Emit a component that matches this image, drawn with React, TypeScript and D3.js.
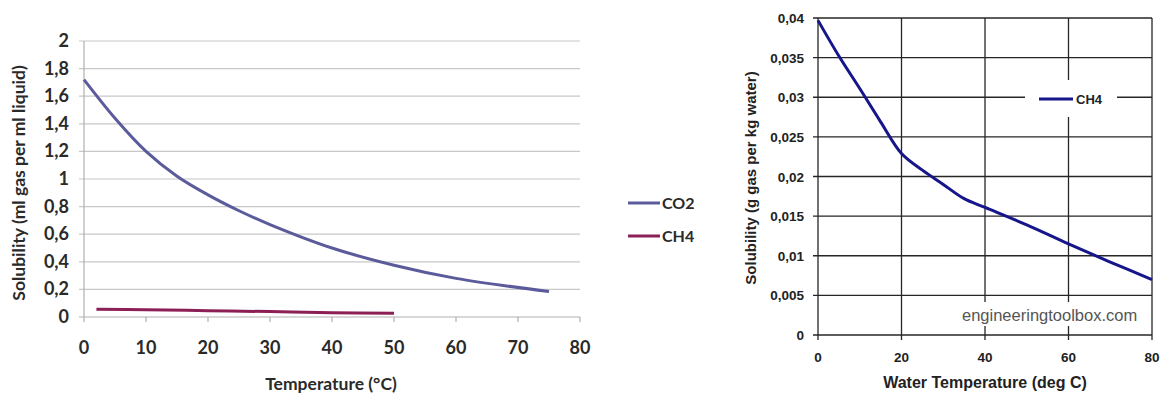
import React, { useEffect, useRef } from 'react';
import * as d3 from 'd3';

// Left chart: solubility in ml gas per ml liquid
const co2Temps = [0, 5, 10, 15, 20, 25, 30, 40, 50, 60, 75];
const co2Values = [1.72, 1.44, 1.2, 1.02, 0.885, 0.77, 0.67, 0.5, 0.375, 0.28, 0.185];
const ch4LeftTemps = [2, 10, 20, 30, 40, 50];
const ch4LeftValues = [0.057, 0.052, 0.046, 0.039, 0.031, 0.028];
const leftXTicks = [0, 10, 20, 30, 40, 50, 60, 70, 80];
const leftYTicks = [0, 0.2, 0.4, 0.6, 0.8, 1, 1.2, 1.4, 1.6, 1.8, 2];

// Right chart: solubility in g gas per kg water
const ch4Temps = [0, 5, 10, 15, 20, 25, 30, 35, 40, 50, 60, 70, 80];
const ch4Values = [0.0397, 0.0352, 0.0311, 0.0269, 0.0229, 0.0208, 0.019, 0.0172, 0.0161, 0.0139, 0.0115, 0.0092, 0.007];
const rightXTicks = [0, 20, 40, 60, 80];
const rightYTicks = [0, 0.005, 0.01, 0.015, 0.02, 0.025, 0.03, 0.035, 0.04];

const fmt = (d: number) => String(d).replace('.', ',');

const App: React.FC = () => {
  const svgRef = useRef<SVGSVGElement | null>(null);

  useEffect(() => {
    if (!svgRef.current) return;
    const svg = d3.select(svgRef.current);
    svg.selectAll('*').remove();

    // --- left chart ---
    const lf = 'Lato, "Open Sans", sans-serif';
    const lx = d3.scaleLinear().domain([0, 80]).range([84, 580]);
    const ly = d3.scaleLinear().domain([0, 2]).range([317, 41]);
    const L = svg.append('g');

    L.selectAll('.lgrid').data(leftYTicks.filter(d => d > 0)).enter().append('line')
      .attr('x1', 79).attr('x2', 580)
      .attr('y1', d => ly(d)).attr('y2', d => ly(d))
      .attr('stroke', '#c8c8c8').attr('stroke-width', 1.2);

    L.append('line').attr('x1', lx(0)).attr('x2', lx(0)).attr('y1', ly(2)).attr('y2', ly(0))
      .attr('stroke', '#b0b0b0').attr('stroke-width', 1.2);
    L.append('line').attr('x1', 79).attr('x2', 580).attr('y1', ly(0)).attr('y2', ly(0))
      .attr('stroke', '#b0b0b0').attr('stroke-width', 1.2);
    L.selectAll('.lxt').data(leftXTicks).enter().append('line')
      .attr('x1', d => lx(d)).attr('x2', d => lx(d))
      .attr('y1', ly(0)).attr('y2', ly(0) + 5)
      .attr('stroke', '#b0b0b0').attr('stroke-width', 1.2);

    L.selectAll('.lyl').data(leftYTicks).enter().append('text')
      .attr('x', 69).attr('y', d => ly(d) + 6)
      .attr('text-anchor', 'end').attr('font-family', lf).attr('font-weight', 'bold')
      .attr('font-size', 18).attr('fill', '#2a2a2a').text(d => fmt(d));
    L.selectAll('.lxl').data(leftXTicks).enter().append('text')
      .attr('x', d => lx(d)).attr('y', 354)
      .attr('text-anchor', 'middle').attr('font-family', lf).attr('font-weight', 'bold')
      .attr('font-size', 18).attr('fill', '#2a2a2a').text(d => d);

    L.append('text').attr('x', 331).attr('y', 390).attr('text-anchor', 'middle')
      .attr('font-family', lf).attr('font-weight', 'bold').attr('font-size', 17.5)
      .attr('fill', '#2a2a2a').text('Temperature (°C)');
    L.append('text').attr('transform', 'translate(25,183) rotate(-90)').attr('text-anchor', 'middle')
      .attr('font-family', lf).attr('font-weight', 'bold').attr('font-size', 17.5)
      .attr('fill', '#2a2a2a').text('Solubility (ml gas per ml liquid)');

    const lline = d3.line<number>().curve(d3.curveCatmullRom.alpha(0.5));
    L.append('path')
      .attr('d', lline.x((_, i) => lx(co2Temps[i])).y(d => ly(d))(co2Values))
      .attr('fill', 'none').attr('stroke', '#5b5b9c').attr('stroke-width', 3);
    L.append('path')
      .attr('d', lline.x((_, i) => lx(ch4LeftTemps[i])).y(d => ly(d))(ch4LeftValues))
      .attr('fill', 'none').attr('stroke', '#8c1f55').attr('stroke-width', 3);

    const legend = [
      { name: 'CO2', color: '#5b5b9c', y: 203 },
      { name: 'CH4', color: '#8c1f55', y: 236 },
    ];
    legend.forEach(l => {
      L.append('line').attr('x1', 628).attr('x2', 660).attr('y1', l.y).attr('y2', l.y)
        .attr('stroke', l.color).attr('stroke-width', 3);
      L.append('text').attr('x', 662).attr('y', l.y + 6).attr('font-family', lf)
        .attr('font-weight', 'bold').attr('font-size', 16).attr('fill', '#2a2a2a').text(l.name);
    });

    // --- right chart ---
    const rf = '"Liberation Sans", Arial, sans-serif';
    const rx = d3.scaleLinear().domain([0, 80]).range([818, 1152]);
    const ry = d3.scaleLinear().domain([0, 0.04]).range([335, 18]);
    const R = svg.append('g');
    const gridC = '#262626';

    R.selectAll('.rgy').data(rightYTicks).enter().append('line')
      .attr('x1', rx(0) - 5).attr('x2', rx(80))
      .attr('y1', d => ry(d)).attr('y2', d => ry(d))
      .attr('stroke', gridC).attr('stroke-width', 1.3);
    R.selectAll('.rgx').data(rightXTicks).enter().append('line')
      .attr('x1', d => rx(d)).attr('x2', d => rx(d))
      .attr('y1', ry(0.04)).attr('y2', ry(0) + 5)
      .attr('stroke', gridC).attr('stroke-width', 1.3);

    R.selectAll('.ryl').data(rightYTicks).enter().append('text')
      .attr('x', 804).attr('y', d => ry(d) + 5)
      .attr('text-anchor', 'end').attr('font-family', rf).attr('font-weight', 'bold')
      .attr('font-size', 13.5).attr('fill', '#222').text(d => fmt(d));
    R.selectAll('.rxl').data(rightXTicks).enter().append('text')
      .attr('x', d => rx(d)).attr('y', 362)
      .attr('text-anchor', 'middle').attr('font-family', rf).attr('font-weight', 'bold')
      .attr('font-size', 13.5).attr('fill', '#222').text(d => d);

    R.append('text').attr('x', 985).attr('y', 388).attr('text-anchor', 'middle')
      .attr('font-family', rf).attr('font-weight', 'bold').attr('font-size', 16)
      .attr('fill', '#222').text('Water Temperature (deg C)');
    R.append('text').attr('transform', 'translate(756,178) rotate(-90)').attr('text-anchor', 'middle')
      .attr('font-family', rf).attr('font-weight', 'bold').attr('font-size', 15)
      .attr('fill', '#222').text('Solubility (g gas per kg water)');

    // watermark box
    R.append('rect').attr('x', 958).attr('y', 302).attr('width', 184).attr('height', 24).attr('fill', '#fff');
    R.append('text').attr('x', 962).attr('y', 321).attr('font-family', rf).attr('font-size', 16.5)
      .attr('fill', '#555').text('engineeringtoolbox.com');

    // legend box
    R.append('rect').attr('x', 1025).attr('y', 80).attr('width', 92).attr('height', 37).attr('fill', '#fff');
    R.append('line').attr('x1', 1039).attr('x2', 1073).attr('y1', 99).attr('y2', 99)
      .attr('stroke', '#16168a').attr('stroke-width', 3);
    R.append('text').attr('x', 1076).attr('y', 104).attr('font-family', rf).attr('font-weight', 'bold')
      .attr('font-size', 13).attr('fill', '#222').text('CH4');

    const rline = d3.line<number>().curve(d3.curveCatmullRom.alpha(0.5))
      .x((_, i) => rx(ch4Temps[i])).y(d => ry(d));
    R.append('path').attr('d', rline(ch4Values))
      .attr('fill', 'none').attr('stroke', '#16168a').attr('stroke-width', 3);
  }, []);

  return (
    <svg ref={svgRef} width={1164} height={394}
      style={{ position: 'absolute', left: 0, top: 0, background: '#fff' }} />
  );
};

export default App;
